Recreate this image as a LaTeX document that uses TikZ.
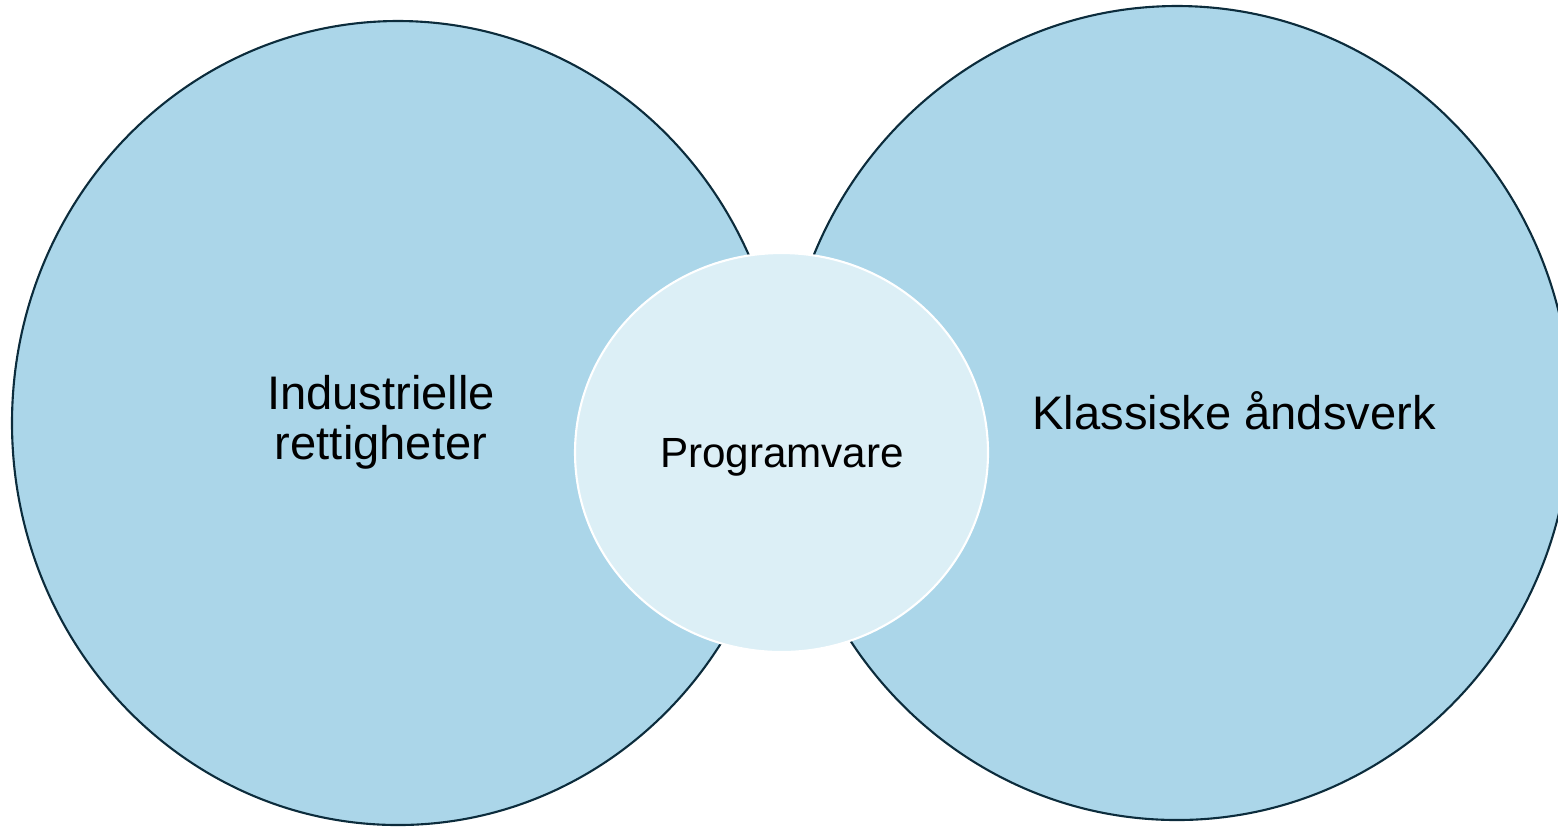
\documentclass[tikz,border=0pt]{standalone}
\usepackage{fontspec}
\setmainfont{Liberation Sans}
\usepackage{tikz}
\definecolor{ringblue}{RGB}{171,214,233}
\definecolor{corefill}{RGB}{220,239,246}
\definecolor{ringline}{RGB}{12,44,60}
\tikzset{
	bigring/.style={fill=ringblue, draw=ringline, line width=0.6pt},
	midring/.style={fill=corefill, draw=white, line width=0.6pt},
	bigtext/.style={align=center, inner sep=0pt, font=\fontsize{13.4}{14.3}\selectfont},
	midtext/.style={inner sep=0pt, font=\fontsize{12}{14}\selectfont}
}

\begin{document}
\begin{tikzpicture}[x=0.01cm, y=-0.01cm]
			%%%%% START %%%%%
			
			\useasboundingbox (0, 0) rectangle (1558, 826);
			
			\draw[bigring] (398, 423) ellipse [x radius=386, y radius=402];
			\draw[bigring] (1177, 413) ellipse [x radius=394, y radius=407];
			
			\draw[midring] (781.5, 452.5) ellipse [x radius=206.5, y radius=199.5];
			
			\node[bigtext] (industri) at (381, 422) {Industrielle\\rettigheter};
			\node[bigtext, anchor=base] (klassisk) at (1234, 429) {Klassiske åndsverk};
			\node[midtext, anchor=base] (program) at (782, 467) {Programvare};
			
			%%%%% END %%%%%
		\end{tikzpicture}
\end{document}
